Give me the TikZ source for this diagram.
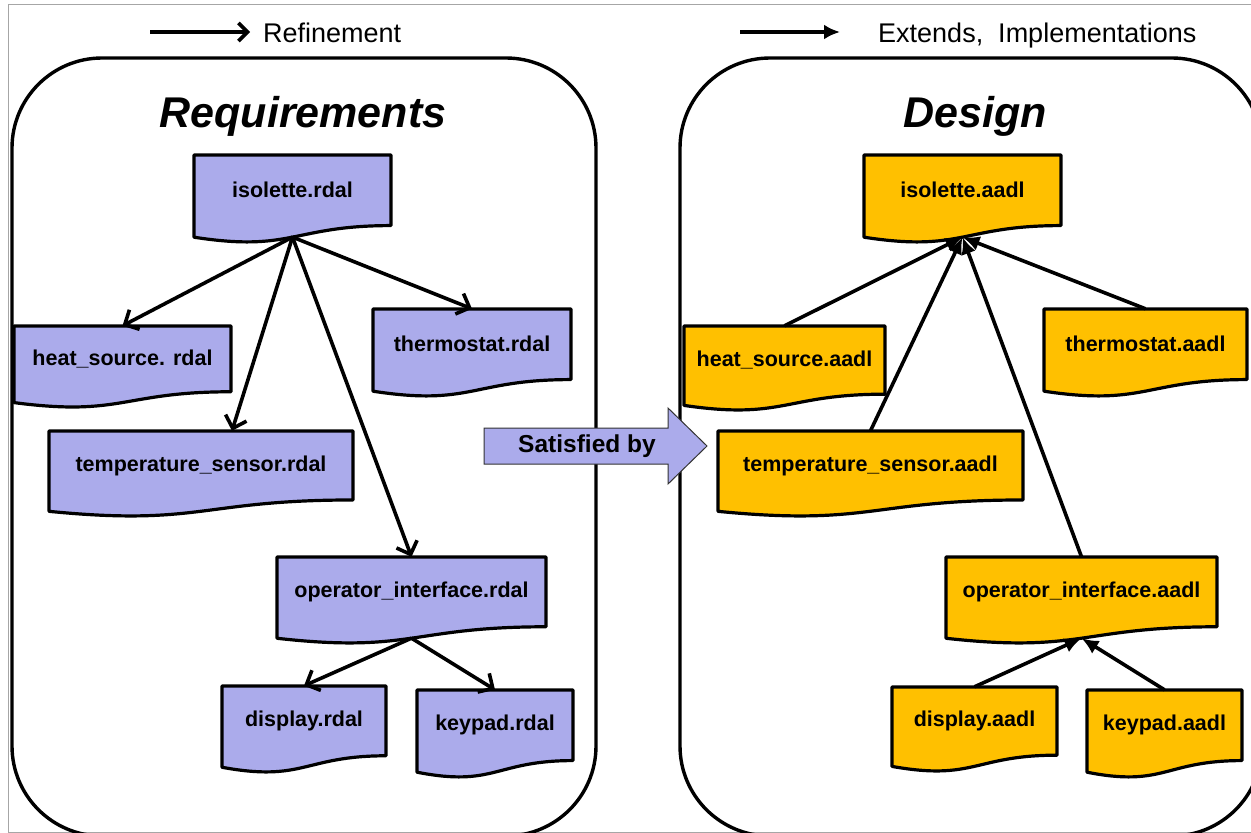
\documentclass[tikz,border=0pt]{standalone}
\usepackage{fontspec}
\setmainfont{Liberation Sans}
\usetikzlibrary{arrows.meta,calc}

\definecolor{reqfill}{RGB}{171,171,235}
\definecolor{desfill}{RGB}{255,192,0}

% document-shaped box: name, left, top, width, height, fill, label
\newcommand\docnode[7]{%
  \draw[docline,fill=#6] (#2,#3) -- ({#2+#4},#3) -- ({#2+#4},{#3+0.802*#5})
    .. controls ({#2+#4/2},{#3+0.802*#5}) and ({#2+#4/2},{#3+1.108*#5}) .. (#2,{#3+0.934*#5}) -- cycle;
  \node[doclabel,minimum width={#4},minimum height={0.802*#5}] (#1) at ({#2+#4/2},{#3+0.401*#5}) {#7};
  \coordinate (#1-b) at ({#2+#4/2},{#3+0.933*#5});
}

\tikzset{
  docline/.style={draw=black,line width=3.2pt,line join=round},
  doclabel/.style={inner sep=0pt,font=\fontsize{21.5}{25}\selectfont\bfseries},
  panel/.style={draw=black,line width=3.4pt,rounded corners=90pt},
  refine/.style={line width=3.6pt,-{Straight Barb[length=11pt,width=22pt,line width=3.6pt]}},
  extend/.style={line width=3.6pt,-{Latex[length=17pt,width=15pt]}},
  title/.style={font=\fontsize{43}{48}\selectfont\bfseries\itshape},
  legend/.style={font=\fontsize{27}{32}\selectfont,anchor=base west,inner sep=0pt},
}

\begin{document}
\begin{tikzpicture}[x=1pt,y=-1pt]
\useasboundingbox (0,0) rectangle (1251,833);
\clip (0,0) rectangle (1251,833);

% outer frame
\draw[gray!70,line width=1pt] (1260,4) -- (8,4) -- (8,832) -- (1260,832);

% legend
\coordinate (la1) at (150,32);
\coordinate (la2) at (250,32);
\draw[line width=3.6pt,-{Straight Barb[length=9pt,width=18pt,line width=3.6pt]}] (la1) -- (la2);
\node[legend] (lt1) at (263,42) {Refinement};
\coordinate (lb1) at (740,32);
\coordinate (lb2) at (840,32);
\draw[line width=3.6pt,-{Latex[length=16pt,width=15pt]}] (lb1) -- (lb2);
\node[legend] (lt2) at (878,42) {Extends,\ \ Implementations};

% panels
\draw[panel] (12,58) rectangle (596,836);
\draw[panel] (680,58) rectangle (1262,836);
\node[title] (reqtitle) at (303,116) {Requirements};
\node[title] (destitle) at (975,116) {Design};

% requirements documents
\docnode{isor}{194}{155}{197}{88}{reqfill}{isolette.rdal}
\docnode{hsr}{14}{326}{217}{82}{reqfill}{heat\_source. rdal}
\docnode{thr}{373}{309}{198}{88}{reqfill}{thermostat.rdal}
\docnode{tsr}{49}{431}{304}{86}{reqfill}{temperature\_sensor.rdal}
\docnode{opr}{277}{557}{269}{87}{reqfill}{operator\_interface.rdal}
\docnode{dir}{222}{686}{164}{87}{reqfill}{display.rdal}
\docnode{kpr}{417}{690}{156}{88}{reqfill}{keypad.rdal}

% design documents
\docnode{isoa}{864}{155}{197}{88}{desfill}{isolette.aadl}
\docnode{hsa}{684}{326}{201}{85}{desfill}{heat\_source.aadl}
\docnode{tha}{1044}{309}{203}{88}{desfill}{thermostat.aadl}
\docnode{tsa}{718}{431}{305}{86}{desfill}{temperature\_sensor.aadl}
\docnode{opa}{946}{557}{271}{87}{desfill}{operator\_interface.aadl}
\docnode{dia}{892}{687}{165}{85}{desfill}{display.aadl}
\docnode{kpa}{1087}{690}{155}{88}{desfill}{keypad.aadl}

% refinement connectors
\draw[refine] (isor-b) -- (hsr.north);
\draw[refine] (isor-b) -- ($(tsr.north)+(31,0)$);
\draw[refine] (isor-b) -- (thr.north);
\draw[refine] (isor-b) -- (opr.north);
\draw[refine] (opr-b) -- (dir.north);
\draw[refine] (opr-b) -- (kpr.north);

% extension connectors
\draw[extend] (hsa.north) -- (isoa-b);
\draw[extend] (tha.north) -- (isoa-b);
\draw[extend] (tsa.north) -- (isoa-b);
\draw[extend] (opa.north) -- (isoa-b);
\draw[extend] (dia.north) -- (opa-b);
\draw[extend] (kpa.north) -- (opa-b);

% satisfied-by block arrow
\draw[fill=reqfill,draw=black!80,line width=1pt,line join=miter]
  (484,428) -- (668,428) -- (668,408) -- (707,446) -- (668,484) -- (668,464) -- (484,464) -- cycle;
\node[doclabel,font=\fontsize{24.5}{28}\selectfont\bfseries] (sat) at (587,446) {Satisfied by};
\end{tikzpicture}
\end{document}
